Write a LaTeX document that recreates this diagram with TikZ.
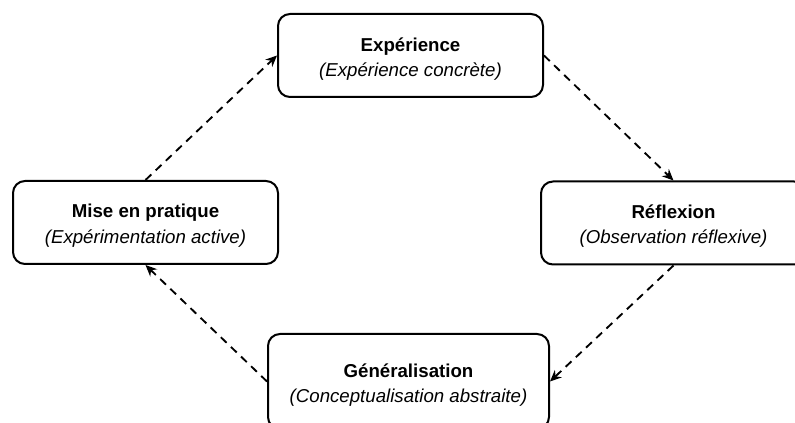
\documentclass[tikz,border=0pt]{standalone}
\usepackage{fontspec}
\setmainfont{Liberation Sans}
\usetikzlibrary{arrows.meta}
\tikzset{
  stage/.style={draw=black, line width=1.5pt, rounded corners=9pt,
    inner sep=0pt, minimum width=198.75pt, minimum height=62.25pt},
  stagetext/.style={align=center, inner sep=0pt, yshift=-2.5pt,
    font=\fontsize{14}{19}\selectfont},
  flow/.style={line width=1.4pt, dash pattern=on 6pt off 4.5pt,
    -{Stealth[length=8.5pt,width=7.5pt]}}
}
\begin{document}
\begin{tikzpicture}[x=0.75pt,y=-0.75pt]
\useasboundingbox (0,0) rectangle (795,423);
\node[stage, label={[stagetext]center:\textbf{Expérience}\\\textit{(Expérience concrète)}}] (top) at (410.5,55.5) {};
\node[stage, label={[stagetext]center:\textbf{Mise en pratique}\\\textit{(Expérimentation active)}}] (left) at (145.5,222.5) {};
\node[stage, label={[stagetext]center:\textbf{Réflexion}\\\textit{(Observation réflexive)}}] (right) at (673.5,223) {};
\node[stage, minimum width=210.75pt, minimum height=71.25pt, label={[stagetext]center:\textbf{Généralisation}\\\textit{(Conceptualisation abstraite)}}] (bottom) at (408.5,381.5) {};
\draw[flow] (left.north) -- (top.west);
\draw[flow] (top.east) -- (right.north);
\draw[flow] (right.south) -- (bottom.east);
\draw[flow] (bottom.west) -- (left.south);
\end{tikzpicture}
\end{document}
